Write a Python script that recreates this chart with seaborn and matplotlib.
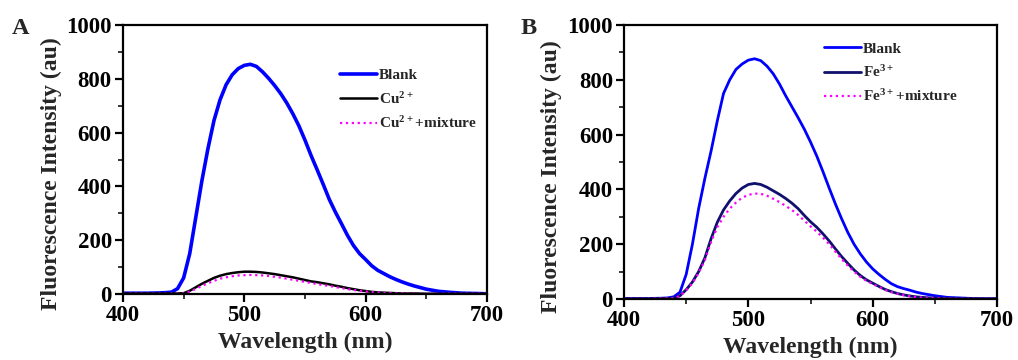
import matplotlib
matplotlib.use("Agg")
import matplotlib.pyplot as plt
import seaborn as sns
from matplotlib.ticker import MultipleLocator

wavelength = [400, 410, 420, 430, 435, 440, 445, 450, 455, 460,
              465, 470, 475, 480, 485, 490, 495, 500, 505, 510,
              515, 520, 525, 530, 535, 540, 545, 550, 555, 560,
              565, 570, 575, 580, 585, 590, 595, 600, 605, 610,
              615, 620, 625, 630, 635, 640, 650, 660, 670, 680, 690, 700]

blank_a = [3, 3, 3, 4, 5, 7, 20, 60, 150, 285,
           420, 540, 645, 722, 778, 815, 838, 850, 854, 846,
           826, 802, 775, 745, 710, 670, 625, 572, 515, 462,
           408, 352, 305, 262, 218, 180, 150, 128, 105, 88,
           76, 64, 54, 45, 37, 30, 18, 10, 6, 3, 2, 1]
cu = [2, 2, 2, 2, 2, 2, 2, 3, 12, 25,
      38, 49, 60, 68, 74, 78, 81, 83, 83, 82,
      80, 77, 74, 70, 66, 62, 57, 52, 47, 44,
      40, 36, 31, 27, 22, 18, 14, 11, 8, 6,
      5, 4, 3, 2, 2, 2, 1, 1, 1, 1, 1, 1]
cu_mix = [1, 1, 1, 1, 1, 1, 1, 2, 9, 19,
          30, 40, 49, 57, 62, 66, 69, 70, 71, 70,
          69, 67, 64, 61, 57, 53, 49, 45, 41, 37,
          33, 30, 26, 22, 18, 15, 12, 9, 7, 5,
          4, 3, 2, 2, 1, 1, 1, 1, 1, 1, 1, 1]

blank_b = [2, 2, 2, 3, 4, 8, 25, 90, 200, 330,
           440, 540, 650, 750, 800, 838, 858, 872, 877, 870,
           850, 822, 785, 742, 702, 662, 620, 573, 522, 465,
           405, 347, 293, 243, 200, 165, 135, 110, 90, 72,
           56, 45, 38, 32, 25, 20, 12, 6, 4, 2, 1, 1]
fe = [1, 1, 1, 2, 2, 3, 12, 34, 62, 100,
      150, 220, 280, 325, 358, 385, 405, 418, 422, 418,
      408, 395, 382, 367, 350, 330, 305, 282, 262, 238,
      212, 183, 155, 130, 106, 86, 70, 58, 46, 35,
      27, 20, 15, 11, 8, 6, 3, 2, 1, 1, 1, 1]
fe_mix = [1, 1, 1, 2, 2, 3, 11, 32, 58, 95,
          142, 208, 262, 300, 330, 352, 370, 380, 385, 384,
          377, 366, 354, 340, 325, 307, 286, 265, 246, 224,
          200, 173, 146, 122, 100, 81, 66, 55, 44, 33,
          25, 19, 14, 10, 7, 5, 3, 1, 1, 1, 1, 1]

labels_a = ["Blank", r"Cu$^{2+}$", r"Cu$^{2+}$+mixture"]
labels_b = ["Blank", r"Fe$^{3+}$", r"Fe$^{3+}$+mixture"]

sns.set_theme(style="ticks")
plt.rcParams["font.family"] = ["Liberation Serif", "DejaVu Serif"]
plt.rcParams["font.weight"] = "bold"
plt.rcParams["mathtext.default"] = "regular"
plt.rcParams["axes.linewidth"] = 1.6

fig = plt.figure(figsize=(10.18, 3.6), dpi=100)
ax_a = fig.add_axes([0.1208, 0.1833, 0.3576, 0.7472])
ax_b = fig.add_axes([0.6130, 0.1694, 0.3664, 0.7610])


def style_axes(ax, ylab_x, ylab_y):
    ax.set_xlim(400, 700)
    ax.set_ylim(0, 1000)
    ax.xaxis.set_major_locator(MultipleLocator(100))
    ax.xaxis.set_minor_locator(MultipleLocator(50))
    ax.yaxis.set_major_locator(MultipleLocator(200))
    ax.yaxis.set_minor_locator(MultipleLocator(100))
    ax.tick_params(which="major", direction="out", length=6, width=1.6,
                   labelsize=16.5, pad=2, colors="black")
    ax.tick_params(which="minor", direction="out", length=3.5, width=1.3)
    for lab in ax.get_xticklabels() + ax.get_yticklabels():
        lab.set_fontweight("bold")
    for sp in ax.spines.values():
        sp.set_visible(True)
        sp.set_color("black")
    ax.set_xlabel("Wavelength (nm)", fontsize=17, fontweight="bold", labelpad=4)
    ax.set_ylabel("Fluorescence Intensity (au)", fontsize=17, fontweight="bold")
    ax.yaxis.set_label_coords(ylab_x, ylab_y)


sns.lineplot(x=wavelength, y=blank_a, ax=ax_a, color="#0000ff", lw=2.6, label=labels_a[0])
sns.lineplot(x=wavelength, y=cu, ax=ax_a, color="black", lw=1.8, label=labels_a[1])
sns.lineplot(x=wavelength, y=cu_mix, ax=ax_a, color="#ff00ff", lw=1.6, ls=":", label=labels_a[2])

sns.lineplot(x=wavelength, y=blank_b, ax=ax_b, color="#0000ff", lw=2.0, label=labels_b[0])
sns.lineplot(x=wavelength, y=fe, ax=ax_b, color="#10106e", lw=2.0, label=labels_b[1])
sns.lineplot(x=wavelength, y=fe_mix, ax=ax_b, color="#ff00ff", lw=1.6, ls=":", label=labels_b[2])

style_axes(ax_a, -0.168, 0.446)
style_axes(ax_b, -0.166, 0.447)

leg_kw = dict(frameon=False, handlelength=2.4, handletextpad=0.15,
              labelspacing=0.55, loc="upper left", borderaxespad=0,
              prop={"weight": "bold", "size": 11})
ax_a.legend(bbox_to_anchor=(0.58, 0.86), **leg_kw)
ax_b.legend(bbox_to_anchor=(0.52, 0.96), **leg_kw)

fig.text(0.012, 0.906, "A", fontsize=17.5, fontweight="bold")
fig.text(0.511, 0.906, "B", fontsize=17.5, fontweight="bold")

fig.savefig("out.png", dpi=100, facecolor="white")
